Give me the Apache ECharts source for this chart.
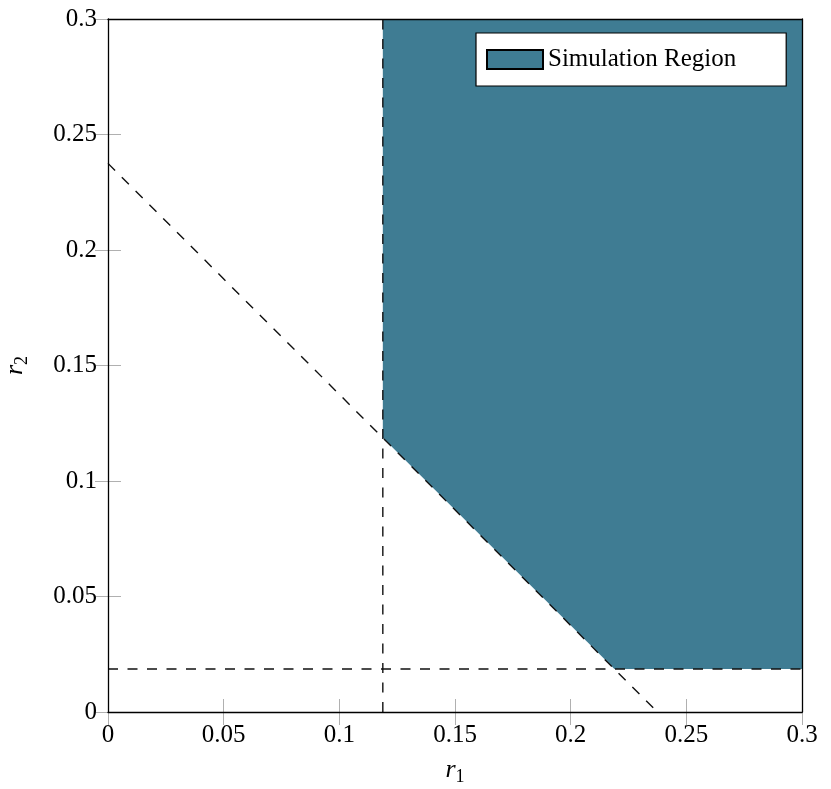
<!DOCTYPE html>
<html>
<head>
<meta charset="utf-8">
<script src="https://cdn.jsdelivr.net/npm/echarts@6/dist/echarts.min.js"></script>
<style>
  html, body { margin: 0; padding: 0; background: #fff; }
  #chart { width: 831px; height: 789px; }
</style>
</head>
<body>
<div id="chart"></div>
<script>
// axis ticks (both axes run 0 .. 0.3)
const ticks = [0, 0.05, 0.1, 0.15, 0.2, 0.25, 0.3];
const axisMin = ticks[0];
const axisMax = ticks[ticks.length - 1];
const step = ticks[1] - ticks[0];

// boundary lines
const r1Min = 0.1188;   // vertical dashed line
const r2Min = 0.0186;   // horizontal dashed line
const sumMin = 0.2375;  // r1 + r2 = sumMin

const verticalLine = [[r1Min, 0], [r1Min, 0.3]];
const horizontalLine = [[0, r2Min], [0.3, r2Min]];
const diagonalLine = [[0, sumMin], [sumMin, 0]];

// shaded region vertices
const regionPoints = [
  [r1Min, 0.3],
  [r1Min, sumMin - r1Min],
  [sumMin - r2Min, r2Min],
  [0.3, r2Min],
  [0.3, 0.3],
];

const FONT = '"Liberation Serif", "DejaVu Serif", serif';
const fillColor = '#3f7c93';

const chart = echarts.init(document.getElementById('chart'));

const tickStyle = { show: true, inside: true, length: 13, lineStyle: { color: '#b0b0b0', width: 1 } };
const labelStyle = {
  color: '#000', fontFamily: FONT, fontSize: 25, margin: 11,
  formatter: (v) => String(+v.toFixed(2)),
};
const dashed = { color: '#111', width: 1.4, type: [10, 9.5] };

const nameRich = {
  i: { fontFamily: FONT, fontStyle: 'italic', fontSize: 26, color: '#000' },
  s: { fontFamily: FONT, fontSize: 18, color: '#000', padding: [14, 0, 0, 0] },
};

// axes that only carry ticks / labels
const tickAxis = (position, extra) => Object.assign({
  type: 'value', position, min: axisMin, max: axisMax, interval: step,
  axisLine: { show: false }, axisTick: tickStyle,
  axisLabel: { show: false }, splitLine: { show: false }, z: 0,
}, extra);

// axes that only draw the frame, above the fill
const frameAxis = (position) => ({
  type: 'value', position, min: axisMin, max: axisMax, interval: step, offset: 0,
  axisLine: { show: true, onZero: false, lineStyle: { color: '#000', width: 1.3 } },
  axisTick: { show: false }, axisLabel: { show: false }, splitLine: { show: false }, z: 10,
});

const option = {
  animation: false,
  grid: { left: 108, top: 19, width: 694, height: 693, outerBoundsMode: 'none', containLabel: false },
  legend: {
    left: 476, top: 33,
    backgroundColor: '#fff',
    borderColor: '#000', borderWidth: 1.2,
    padding: [14, 50, 14, 10],
    itemWidth: 56, itemHeight: 19,
    itemGap: 7,
    textStyle: { fontFamily: FONT, fontSize: 25, color: '#000' },
    data: [{ name: 'Simulation Region', icon: 'rect' }],
  },
  xAxis: [
    tickAxis('bottom', {
      axisLabel: labelStyle,
      name: '{i|r}{s|1}', nameLocation: 'middle', nameGap: 42,
      nameTextStyle: { rich: nameRich },
    }),
    tickAxis('top'),
    frameAxis('bottom'),
    frameAxis('top'),
  ],
  yAxis: [
    tickAxis('left', {
      axisLabel: labelStyle,
      name: '{i|r}{s|2}', nameLocation: 'middle', nameGap: 77,
      nameTextStyle: { rich: nameRich },
    }),
    tickAxis('right'),
    frameAxis('left'),
    frameAxis('right'),
  ],
  series: [
    {
      name: 'Simulation Region',
      type: 'custom',
      itemStyle: { color: fillColor, borderColor: '#000', borderWidth: 1.2 },
      data: [0],
      renderItem: (params, api) => ({
        type: 'polygon',
        shape: { points: regionPoints.map((p) => api.coord(p)) },
        style: { fill: fillColor },
      }),
      z: 1,
    },
    { type: 'line', data: verticalLine, symbol: 'none', lineStyle: dashed, z: 3 },
    { type: 'line', data: horizontalLine, symbol: 'none', lineStyle: dashed, z: 3 },
    { type: 'line', data: diagonalLine, symbol: 'none', lineStyle: dashed, z: 3 },
  ],
};

chart.setOption(option);
</script>
</body>
</html>
